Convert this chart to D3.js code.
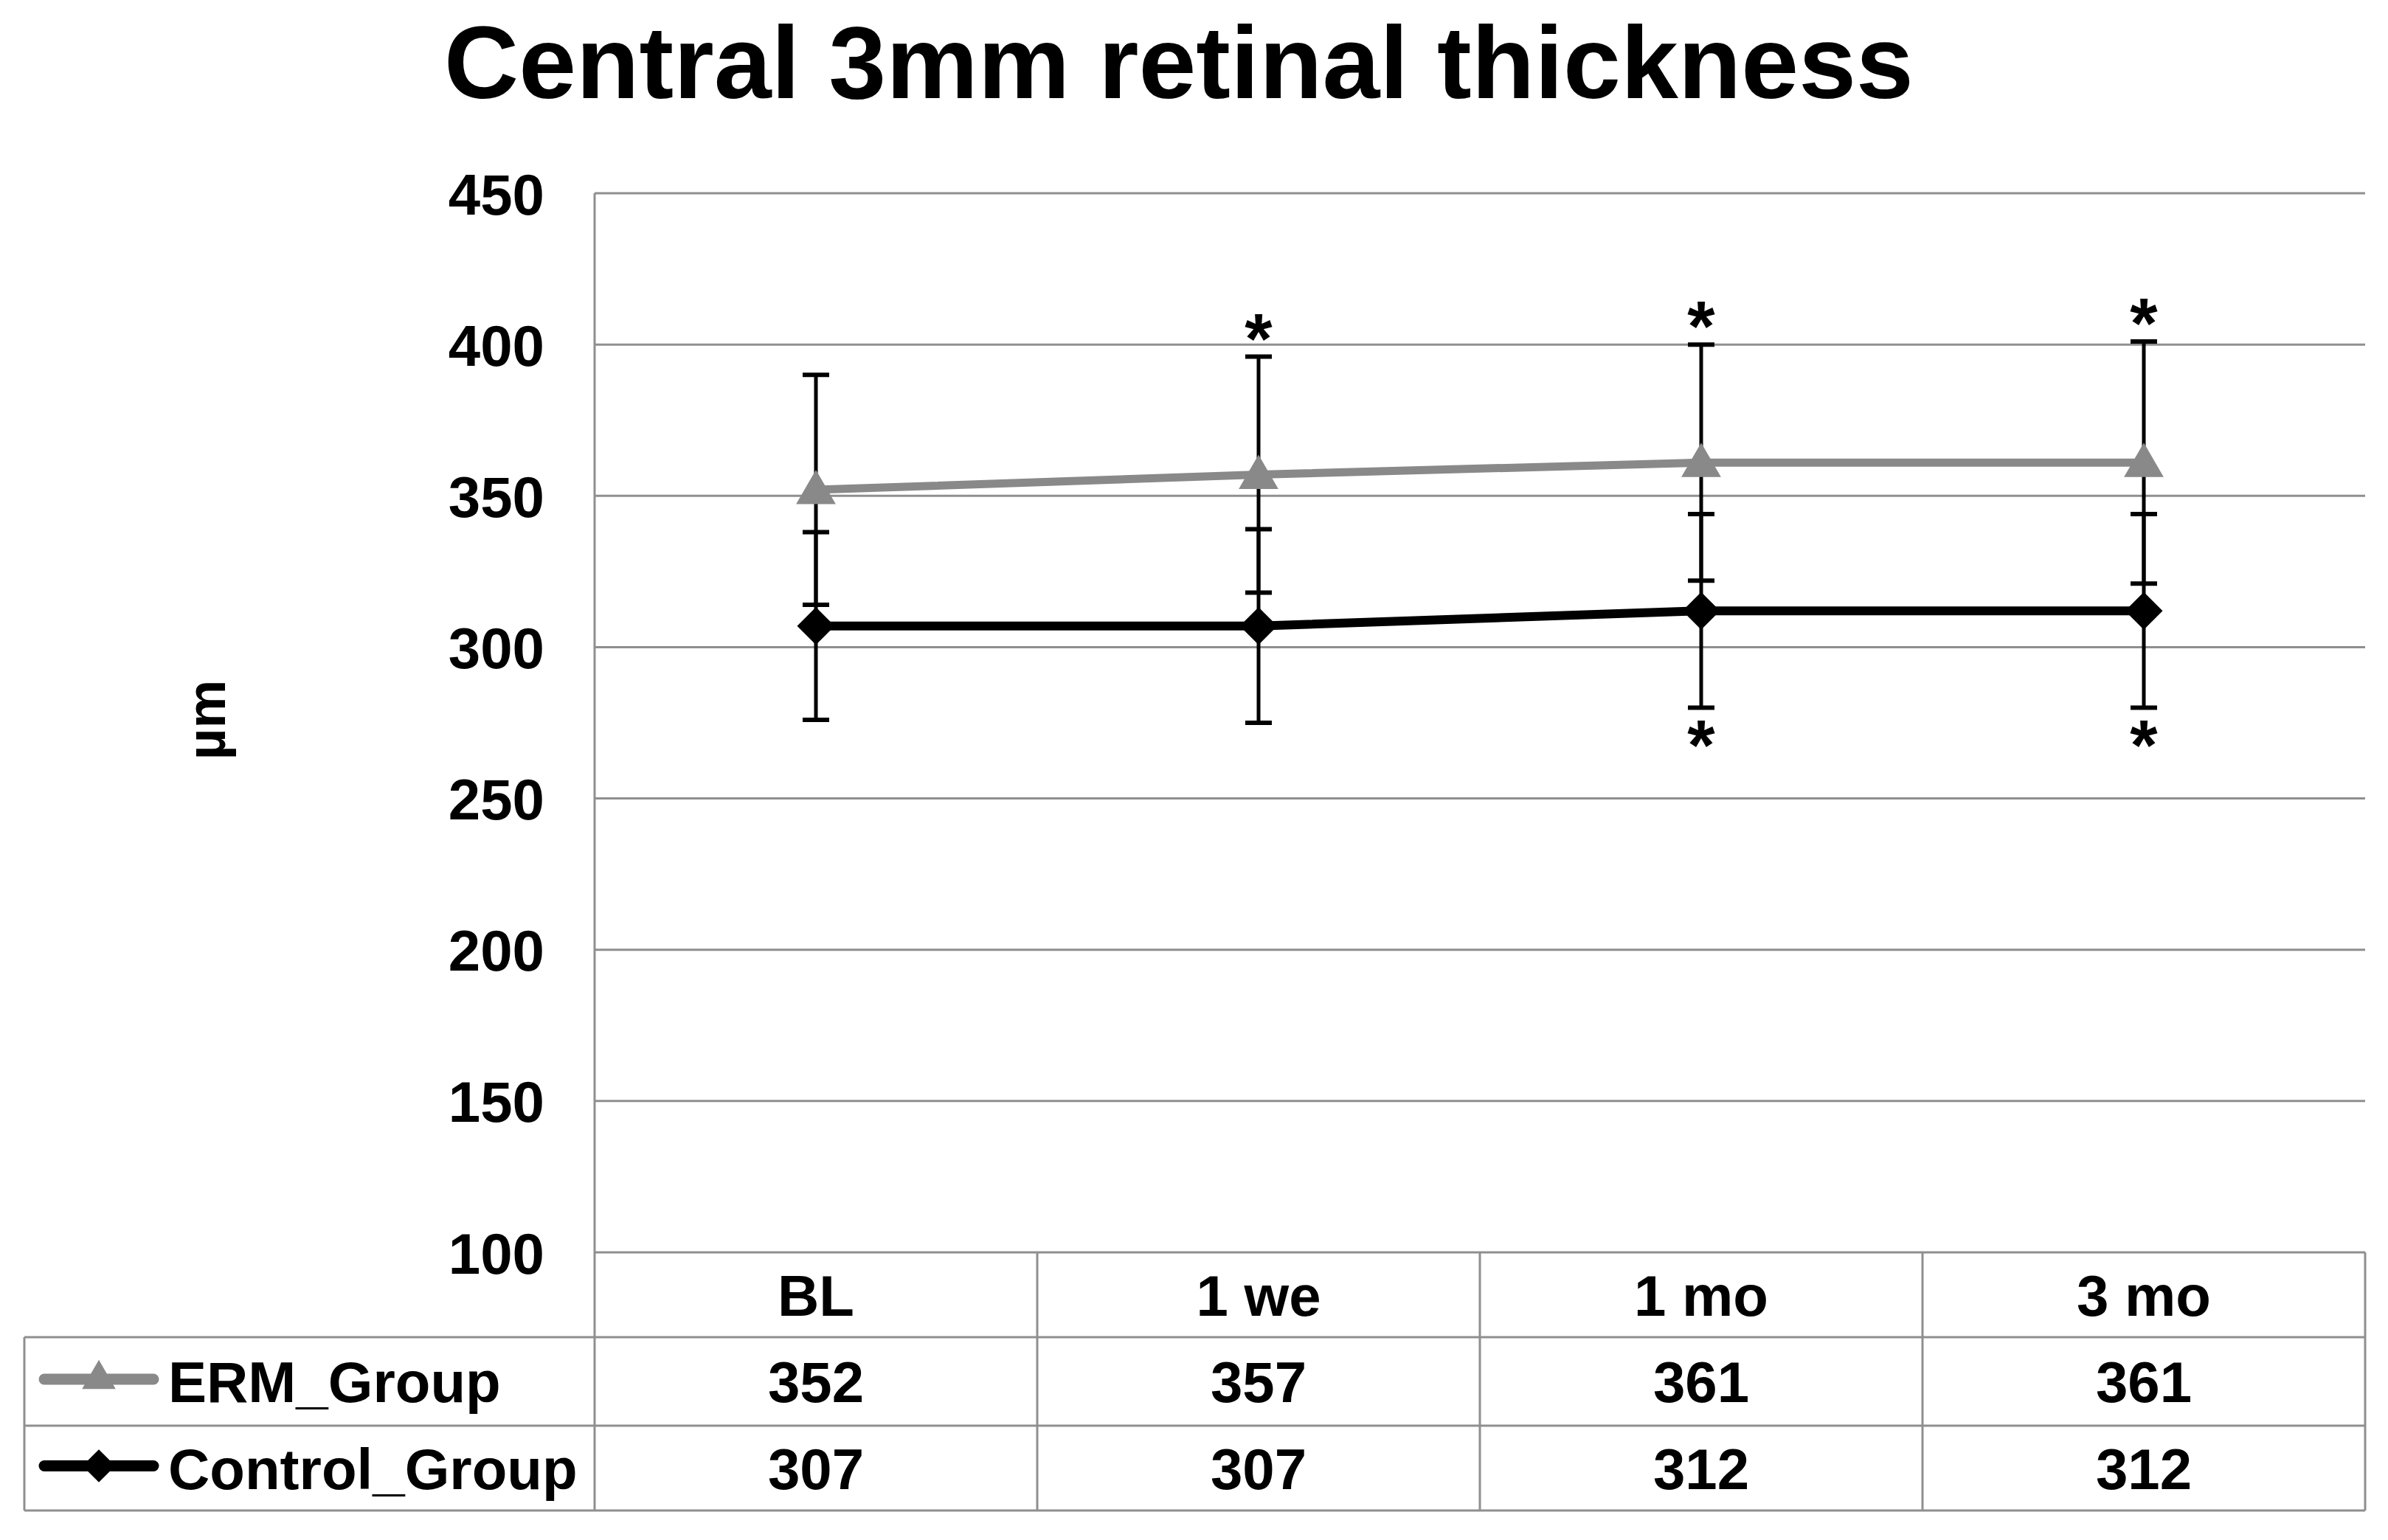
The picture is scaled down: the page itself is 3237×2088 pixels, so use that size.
<!DOCTYPE html>
<html>
<head>
<meta charset="utf-8">
<script src="https://cdn.jsdelivr.net/npm/d3@7"></script>
<style>
  html, body { margin: 0; padding: 0; background: #ffffff; }
  svg { display: block; }
  text { font-family: "Liberation Sans", Arial, sans-serif; font-weight: bold; fill: #000; }
</style>
</head>
<body>
<script>
// ---------- data ----------
const categories = ["BL", "1 we", "1 mo", "3 mo"];
const seriesNames = ["ERM_Group", "Control_Group"];
const ermValues = [352, 357, 361, 361];
const controlValues = [307, 307, 312, 312];
const ermSD = [38, 39, 39, 40];
const controlSD = [31, 32, 32, 32];
const ermSignificant = [false, true, true, true];      // asterisk above
const controlSignificant = [false, false, true, true]; // asterisk below
const yTicks = [100, 150, 200, 250, 300, 350, 400, 450];
const titleText = "Central 3mm retinal thickness";
const yAxisTitle = "µm";

// ---------- layout ----------
const W = 3237, H = 2088;
const plotLeft = 806, plotRight = 3206, plotTop = 262, plotBottom = 1698;
const tableLeft = 33, headerBottom = 1813, row1Bottom = 1933, row2Bottom = 2048;
const gridColor = "#8f8f8f";
const ermColor = "#898989";
const ctrlColor = "#000000";
const fontSize = 78;
const starSize = 96;

const svg = d3.select("body").append("svg").attr("width", W).attr("height", H);

const x = d3.scaleBand().domain(categories).range([plotLeft, plotRight]).padding(0);
const y = d3.scaleLinear().domain([100, 450]).range([plotBottom, plotTop]);
const cx = c => x(c) + x.bandwidth() / 2;

// title
svg.append("text")
  .attr("x", 1598).attr("y", 133)
  .attr("text-anchor", "middle")
  .style("font-size", "140px")
  .text(titleText);

// gridlines
svg.append("g").selectAll("line").data(yTicks).join("line")
  .attr("x1", plotLeft).attr("x2", plotRight)
  .attr("y1", d => y(d)).attr("y2", d => y(d))
  .attr("stroke", gridColor).attr("stroke-width", 3);

// y axis labels via d3 axis
const yAxis = svg.append("g")
  .attr("transform", `translate(${738},0)`)
  .call(d3.axisLeft(y).tickValues(yTicks).tickSize(0).tickPadding(0).tickFormat(d3.format("d")));
yAxis.select(".domain").remove();
yAxis.selectAll("text")
  .style("font-size", fontSize + "px")
  .style("font-family", '"Liberation Sans", Arial, sans-serif')
  .style("font-weight", "bold")
  .attr("fill", "#000")
  .attr("dy", "0.36em");

// y axis title
svg.append("text")
  .attr("transform", `translate(305,976) rotate(-90)`)
  .attr("text-anchor", "middle")
  .style("font-size", "74px")
  .text(yAxisTitle);

// table lines
const tbl = svg.append("g").attr("stroke", gridColor).attr("stroke-width", 3);
tbl.append("line").attr("x1", plotLeft).attr("x2", plotLeft).attr("y1", plotTop).attr("y2", row2Bottom);
const colEdges = categories.map(c => x(c) + x.bandwidth());
tbl.selectAll("line.col").data(colEdges).join("line").attr("class", "col")
  .attr("x1", d => d).attr("x2", d => d).attr("y1", plotBottom).attr("y2", row2Bottom);
tbl.selectAll("line.row").data([headerBottom, row1Bottom, row2Bottom]).join("line").attr("class", "row")
  .attr("x1", tableLeft).attr("x2", plotRight).attr("y1", d => d).attr("y2", d => d);
tbl.append("line").attr("x1", tableLeft).attr("x2", tableLeft).attr("y1", headerBottom).attr("y2", row2Bottom);

// header labels
svg.append("g").selectAll("text").data(categories).join("text")
  .attr("x", d => cx(d)).attr("y", (plotBottom + headerBottom) / 2)
  .attr("dy", "0.36em").attr("text-anchor", "middle")
  .style("font-size", fontSize + "px")
  .text(d => d);

// table values
const rowsY = [(headerBottom + row1Bottom) / 2, (row1Bottom + row2Bottom) / 2];
[ermValues, controlValues].forEach((vals, i) => {
  svg.append("g").selectAll("text").data(vals).join("text")
    .attr("x", (d, j) => cx(categories[j])).attr("y", rowsY[i])
    .attr("dy", "0.36em").attr("text-anchor", "middle")
    .style("font-size", fontSize + "px")
    .text(d => d);
});

// legend entries in table
const triangle = d3.symbol().type(d3.symbolTriangle);
const diamond = d3.symbol().type(d3.symbolSquare);
const legendColors = [ermColor, ctrlColor];
seriesNames.forEach((name, i) => {
  const g = svg.append("g");
  g.append("line").attr("x1", 60).attr("x2", 208).attr("y1", rowsY[i] - 3).attr("y2", rowsY[i] - 3)
    .attr("stroke", legendColors[i]).attr("stroke-width", 15).attr("stroke-linecap", "round");
  if (i === 0) {
    g.append("path").attr("d", triangle.size(900)())
      .attr("transform", `translate(134,${rowsY[i] - 3})`).attr("fill", ermColor);
  } else {
    g.append("path").attr("d", diamond.size(1000)())
      .attr("transform", `translate(134,${rowsY[i] - 3}) rotate(45)`).attr("fill", ctrlColor);
  }
  g.append("text").attr("x", 228).attr("y", rowsY[i]).attr("dy", "0.36em")
    .style("font-size", fontSize + "px").text(name);
});

// error bars
function errorBars(vals, sds) {
  const g = svg.append("g").attr("stroke", "#000");
  vals.forEach((v, i) => {
    const px = cx(categories[i]);
    g.append("line").attr("x1", px).attr("x2", px).attr("y1", y(v + sds[i])).attr("y2", y(v - sds[i]))
      .attr("stroke-width", 5);
    [v + sds[i], v - sds[i]].forEach(e => {
      g.append("line").attr("x1", px - 18).attr("x2", px + 18).attr("y1", y(e)).attr("y2", y(e))
        .attr("stroke-width", 6);
    });
  });
}
errorBars(ermValues, ermSD);
errorBars(controlValues, controlSD);

// lines
const lineGen = d3.line().x((d, i) => cx(categories[i])).y(d => y(d));
svg.append("path").datum(ermValues).attr("d", lineGen)
  .attr("fill", "none").attr("stroke", ermColor).attr("stroke-width", 11);
svg.append("path").datum(controlValues).attr("d", lineGen)
  .attr("fill", "none").attr("stroke", ctrlColor).attr("stroke-width", 12);

// markers
svg.append("g").selectAll("path").data(ermValues).join("path")
  .attr("d", triangle.size(1250)())
  .attr("transform", (d, i) => `translate(${cx(categories[i])},${y(d) + 4})`)
  .attr("fill", ermColor);
svg.append("g").selectAll("path").data(controlValues).join("path")
  .attr("d", diamond.size(1300)())
  .attr("transform", (d, i) => `translate(${cx(categories[i])},${y(d)}) rotate(45)`)
  .attr("fill", ctrlColor);

// significance asterisks (glyph centre sits ~0.5em above the baseline)
function asterisk(px, centerY) {
  svg.append("text").attr("x", px).attr("y", centerY + 0.5 * starSize).attr("text-anchor", "middle")
    .style("font-size", starSize + "px").text("*");
}
ermValues.forEach((v, i) => {
  if (ermSignificant[i]) asterisk(cx(categories[i]), y(v + ermSD[i]) - 40);
});
controlValues.forEach((v, i) => {
  if (controlSignificant[i]) asterisk(cx(categories[i]), y(v - controlSD[i]) + 36);
});
</script>
</body>
</html>
